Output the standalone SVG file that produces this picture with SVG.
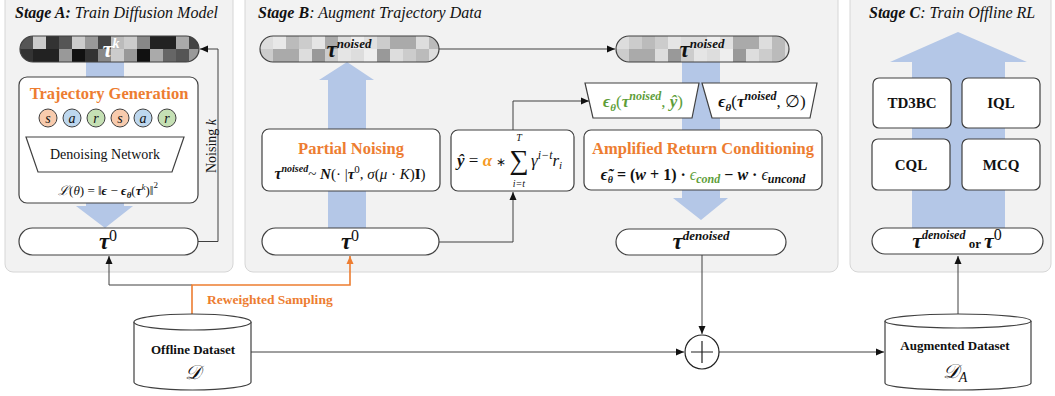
<svg xmlns="http://www.w3.org/2000/svg" width="1055" height="396" viewBox="0 0 1055 396">
<style>
text{font-family:"Liberation Serif","Times New Roman",serif;fill:#111}
.panel{fill:#f2f2f2;stroke:#d6d6d6;stroke-width:1}
.box{fill:#fff;stroke:#404040;stroke-width:1.2}
.pill{fill:#fff;stroke:#404040;stroke-width:1.2}
.blue{fill:#b4c7e7}
.ln{fill:none;stroke:#404040;stroke-width:1}
.oln{fill:none;stroke:#ed7d31;stroke-width:1.6}
.title{font-size:16px;font-style:italic}
.otitle{font-size:16.5px;font-weight:bold;fill:#ed7d31}
.bi{font-weight:bold;font-style:italic}
.it{font-style:italic}
.alg{font-size:15px;font-weight:bold;text-anchor:middle}
.lbl{font-size:13px;font-weight:bold;text-anchor:middle}
.grn{fill:#5e9e3a}
.s{fill:#f8cbad;stroke:#404040;stroke-width:1}
.a{fill:#bdd7ee;stroke:#404040;stroke-width:1}
.r{fill:#c5e0b4;stroke:#404040;stroke-width:1}
.circ{font-size:14px;font-style:italic;text-anchor:middle}
</style>
<defs>
<marker id="ah" markerUnits="userSpaceOnUse" markerWidth="8" markerHeight="8" refX="8" refY="4" orient="auto"><path d="M0,0.5 L8,4 L0,7.5 z" fill="#111"/></marker>
<marker id="aho" markerUnits="userSpaceOnUse" markerWidth="8" markerHeight="8" refX="8" refY="4" orient="auto"><path d="M0,0.5 L8,4 L0,7.5 z" fill="#ed7d31"/></marker>
<clipPath id="cpA"><rect x="20" y="36" width="179" height="26" rx="13"/></clipPath>
<clipPath id="cpB1"><rect x="260" y="36" width="179" height="26" rx="13"/></clipPath>
<clipPath id="cpB2"><rect x="616" y="36" width="173" height="26" rx="13"/></clipPath>
</defs>
<rect width="1055" height="396" fill="#fff"/>

<!-- panels -->
<g id="panelA"><rect class="panel" x="5" y="-10" width="228" height="282" rx="8"/>
<text class="title" x="15" y="18"><tspan font-weight="bold">Stage A:</tspan> Train Diffusion Model</text></g>
<g id="panelB"><rect class="panel" x="245" y="-10" width="593" height="282" rx="8"/>
<text class="title" x="258" y="18"><tspan font-weight="bold">Stage B</tspan>: Augment Trajectory Data</text></g>
<g id="panelC"><rect class="panel" x="850" y="-10" width="201" height="282" rx="8"/>
<text class="title" x="869" y="18"><tspan font-weight="bold">Stage C</tspan>: Train Offline RL</text></g>

<!-- blue flow arrows -->
<g id="flows">
<rect class="blue" x="86" y="62" width="38" height="16"/>
<polygon class="blue" points="86,202 124,202 124,206 133,206 105,228 76,206 86,206"/>
<polygon class="blue" points="347,62 374,80 366,80 366,228 328,228 328,80 319,80"/>
<rect class="blue" x="682" y="62" width="38" height="68"/>
<polygon class="blue" points="682,190 720,190 720,198 728,198 701,220 673,198 682,198"/>
<polygon class="blue" points="958,32 1027,62 1005,62 1005,228 912,228 912,62 890,62"/>
</g>

<!-- connectors -->
<g id="connectors">
<path class="ln" d="M198,241.5 H218 V49 H200" marker-end="url(#ah)"/>
<path class="ln" d="M192,285 H109 V256" marker-end="url(#ah)"/>
<path class="oln" d="M192,314 V285 H350 V256" marker-end="url(#aho)"/>
<path class="ln" d="M439,49 H615" marker-end="url(#ah)"/>
<path class="ln" d="M439,242 H513 V192" marker-end="url(#ah)"/>
<path class="ln" d="M513,130 V101 H589" marker-end="url(#ah)"/>
<path class="ln" d="M702,255 V334" marker-end="url(#ah)"/>
<path class="ln" d="M251,352 H684" marker-end="url(#ah)"/>
<path class="ln" d="M719,352 H884" marker-end="url(#ah)"/>
<path class="ln" d="M958,314 V256" marker-end="url(#ah)"/>
</g>

<!-- Stage A nodes -->
<g id="tauK">
<g clip-path="url(#cpA)">
<rect x="20" y="36" width="13" height="13" fill="#555"/><rect x="33" y="36" width="13" height="13" fill="#ccc"/><rect x="46" y="36" width="13" height="13" fill="#333"/><rect x="59" y="36" width="13" height="13" fill="#555"/><rect x="72" y="36" width="13" height="13" fill="#ccc"/><rect x="85" y="36" width="13" height="13" fill="#999"/><rect x="98" y="36" width="13" height="13" fill="#444"/><rect x="111" y="36" width="13" height="13" fill="#bbb"/><rect x="124" y="36" width="13" height="13" fill="#ccc"/><rect x="137" y="36" width="13" height="13" fill="#888"/><rect x="150" y="36" width="13" height="13" fill="#222"/><rect x="163" y="36" width="13" height="13" fill="#222"/><rect x="176" y="36" width="13" height="13" fill="#aaa"/><rect x="189" y="36" width="13" height="13" fill="#444"/>
<rect x="20" y="49" width="13" height="13" fill="#333"/><rect x="33" y="49" width="13" height="13" fill="#222"/><rect x="46" y="49" width="13" height="13" fill="#222"/><rect x="59" y="49" width="13" height="13" fill="#999"/><rect x="72" y="49" width="13" height="13" fill="#111"/><rect x="85" y="49" width="13" height="13" fill="#333"/><rect x="98" y="49" width="13" height="13" fill="#888"/><rect x="111" y="49" width="13" height="13" fill="#ccc"/><rect x="124" y="49" width="13" height="13" fill="#999"/><rect x="137" y="49" width="13" height="13" fill="#111"/><rect x="150" y="49" width="13" height="13" fill="#aaa"/><rect x="163" y="49" width="13" height="13" fill="#666"/><rect x="176" y="49" width="13" height="13" fill="#555"/><rect x="189" y="49" width="13" height="13" fill="#999"/>
</g>
<rect x="20" y="36" width="179" height="26" rx="13" fill="none" stroke="#404040" stroke-width="1.2"/>
<text x="111" y="57" text-anchor="middle" style="fill:#fff"><tspan class="bi" font-size="23" style="fill:#fff">τ</tspan><tspan class="bi" font-size="14" dy="-9" style="fill:#fff">k</tspan></text>
</g>

<g id="trajGen">
<rect class="box" x="19" y="77" width="179" height="126" rx="8"/>
<text class="otitle" x="109" y="99" text-anchor="middle">Trajectory Generation</text>
<circle class="s" cx="48" cy="118" r="9"/><text class="circ" x="48" y="122.5">s</text>
<circle class="a" cx="72" cy="118" r="9"/><text class="circ" x="72" y="122.5">a</text>
<circle class="r" cx="96" cy="118" r="9"/><text class="circ" x="96" y="122.5">r</text>
<circle class="s" cx="120" cy="118" r="9"/><text class="circ" x="120" y="122.5">s</text>
<circle class="a" cx="143" cy="118" r="9"/><text class="circ" x="143" y="122.5">a</text>
<circle class="r" cx="167" cy="118" r="9"/><text class="circ" x="167" y="122.5">r</text>
<polygon points="26,137 184,137 172,172 38,172" fill="#fff" stroke="#404040" stroke-width="1.2"/>
<text x="105" y="159" font-size="14" text-anchor="middle">Denoising Network</text>
<text x="108" y="195" font-size="13" text-anchor="middle"><tspan class="it">ℒ</tspan>(<tspan class="it">θ</tspan>) = ‖<tspan class="bi">ϵ</tspan> − <tspan class="bi">ϵ</tspan><tspan class="bi" font-size="9" dy="3">θ</tspan><tspan dy="-3">(</tspan><tspan class="bi">τ</tspan><tspan class="it" font-size="9" dy="-5">k</tspan><tspan dy="5">)‖</tspan><tspan font-size="9" dy="-7">2</tspan></text>
</g>

<g id="tau0A">
<rect class="pill" x="19" y="228" width="179" height="27" rx="13.5"/>
<text x="108" y="249" text-anchor="middle"><tspan class="bi" font-size="23">τ</tspan><tspan font-size="16" dy="-8">0</tspan></text>
</g>
<text id="noisingK" font-size="14" text-anchor="middle" transform="translate(215.5,146) rotate(-90)">Noising <tspan class="it">k</tspan></text>

<!-- Stage B nodes -->
<g id="tauNoisedB1">
<g clip-path="url(#cpB1)">
<rect x="260" y="36" width="13" height="13" fill="#ddd"/><rect x="273" y="36" width="13" height="13" fill="#e8e8e8"/><rect x="286" y="36" width="13" height="13" fill="#bbb"/><rect x="299" y="36" width="13" height="13" fill="#ccc"/><rect x="312" y="36" width="13" height="13" fill="#e5e5e5"/><rect x="325" y="36" width="13" height="13" fill="#aaa"/><rect x="338" y="36" width="13" height="13" fill="#ddd"/><rect x="351" y="36" width="13" height="13" fill="#eee"/><rect x="364" y="36" width="13" height="13" fill="#e0e0e0"/><rect x="377" y="36" width="13" height="13" fill="#ccc"/><rect x="390" y="36" width="13" height="13" fill="#aaa"/><rect x="403" y="36" width="13" height="13" fill="#aaa"/><rect x="416" y="36" width="13" height="13" fill="#ddd"/><rect x="429" y="36" width="13" height="13" fill="#bbb"/>
<rect x="260" y="49" width="13" height="13" fill="#ccc"/><rect x="273" y="49" width="13" height="13" fill="#aaa"/><rect x="286" y="49" width="13" height="13" fill="#aaa"/><rect x="299" y="49" width="13" height="13" fill="#ddd"/><rect x="312" y="49" width="13" height="13" fill="#999"/><rect x="325" y="49" width="13" height="13" fill="#ccc"/><rect x="338" y="49" width="13" height="13" fill="#e5e5e5"/><rect x="351" y="49" width="13" height="13" fill="#ddd"/><rect x="364" y="49" width="13" height="13" fill="#eee"/><rect x="377" y="49" width="13" height="13" fill="#999"/><rect x="390" y="49" width="13" height="13" fill="#ddd"/><rect x="403" y="49" width="13" height="13" fill="#ccc"/><rect x="416" y="49" width="13" height="13" fill="#bbb"/><rect x="429" y="49" width="13" height="13" fill="#ddd"/>
</g>
<rect x="260" y="36" width="179" height="26" rx="13" fill="none" stroke="#404040" stroke-width="1.2"/>
<text x="349" y="57" text-anchor="middle"><tspan class="bi" font-size="23">τ</tspan><tspan class="bi" font-size="13" dy="-9">noised</tspan></text>
</g>

<g id="partialNoising">
<rect class="box" x="262" y="129" width="178" height="62" rx="7"/>
<text class="otitle" x="351" y="154" text-anchor="middle">Partial Noising</text>
<text x="350" y="179" font-size="15" text-anchor="middle"><tspan class="bi" font-size="16">τ</tspan><tspan class="bi" font-size="10" dy="-7">noised</tspan><tspan dy="7">~ </tspan><tspan class="bi">N</tspan>(· |<tspan class="bi">τ</tspan><tspan font-size="11" dy="-6">0</tspan><tspan dy="6">, </tspan><tspan class="it">σ</tspan>(<tspan class="it">μ</tspan> · <tspan class="it">K</tspan>)<tspan font-weight="bold">I</tspan>)</text>
</g>

<g id="tau0B">
<rect class="pill" x="262" y="228" width="177" height="27" rx="13.5"/>
<text x="350" y="249" text-anchor="middle"><tspan class="bi" font-size="23">τ</tspan><tspan font-size="16" dy="-8">0</tspan></text>
</g>

<g id="yhat">
<rect class="box" x="451" y="130" width="123" height="61" rx="7"/>
<text x="457" y="166" font-size="17"><tspan class="bi">ŷ</tspan> = <tspan class="it" font-weight="bold" style="fill:#f59a23">α</tspan> <tspan font-size="12">∗</tspan></text>
<text x="519" y="168.5" font-size="27" text-anchor="middle">∑</text>
<text x="519" y="141" font-size="10" class="it" text-anchor="middle">T</text>
<text x="519" y="187" font-size="10" class="it" text-anchor="middle">i=t</text>
<text x="531" y="166" font-size="17"><tspan class="it">γ</tspan><tspan class="it" font-size="12" dy="-7">i−t</tspan><tspan class="it" dy="7">r</tspan><tspan class="it" font-size="11" dy="3">i</tspan></text>
</g>

<g id="tauNoisedB2">
<g clip-path="url(#cpB2)">
<rect x="616" y="36" width="13" height="13" fill="#ddd"/><rect x="629" y="36" width="13" height="13" fill="#ccc"/><rect x="642" y="36" width="13" height="13" fill="#bbb"/><rect x="655" y="36" width="13" height="13" fill="#ccc"/><rect x="668" y="36" width="13" height="13" fill="#e5e5e5"/><rect x="681" y="36" width="13" height="13" fill="#ddd"/><rect x="694" y="36" width="13" height="13" fill="#ddd"/><rect x="707" y="36" width="13" height="13" fill="#eee"/><rect x="720" y="36" width="13" height="13" fill="#e0e0e0"/><rect x="733" y="36" width="13" height="13" fill="#aaa"/><rect x="746" y="36" width="13" height="13" fill="#aaa"/><rect x="759" y="36" width="13" height="13" fill="#ddd"/><rect x="772" y="36" width="13" height="13" fill="#bbb"/><rect x="785" y="36" width="13" height="13" fill="#ddd"/>
<rect x="616" y="49" width="13" height="13" fill="#ccc"/><rect x="629" y="49" width="13" height="13" fill="#aaa"/><rect x="642" y="49" width="13" height="13" fill="#aaa"/><rect x="655" y="49" width="13" height="13" fill="#ddd"/><rect x="668" y="49" width="13" height="13" fill="#999"/><rect x="681" y="49" width="13" height="13" fill="#ccc"/><rect x="694" y="49" width="13" height="13" fill="#e5e5e5"/><rect x="707" y="49" width="13" height="13" fill="#ddd"/><rect x="720" y="49" width="13" height="13" fill="#eee"/><rect x="733" y="49" width="13" height="13" fill="#999"/><rect x="746" y="49" width="13" height="13" fill="#ddd"/><rect x="759" y="49" width="13" height="13" fill="#ccc"/><rect x="772" y="49" width="13" height="13" fill="#bbb"/><rect x="785" y="49" width="13" height="13" fill="#ddd"/>
</g>
<rect x="616" y="36" width="173" height="26" rx="13" fill="none" stroke="#404040" stroke-width="1.2"/>
<text x="702" y="57" text-anchor="middle"><tspan class="bi" font-size="23">τ</tspan><tspan class="bi" font-size="13" dy="-9">noised</tspan></text>
</g>

<g id="epsCond">
<polygon points="585,83 699,83 692,118 593,118" fill="#fff" stroke="#404040" stroke-width="1.2"/>
<text x="643" y="107" font-size="17" text-anchor="middle" class="grn"><tspan class="bi grn">ϵ</tspan><tspan class="bi grn" font-size="11" dy="4">θ</tspan><tspan class="grn" dy="-4">(</tspan><tspan class="bi grn">τ</tspan><tspan class="bi grn" font-size="12" dy="-7">noised</tspan><tspan class="grn" dy="7">, </tspan><tspan class="bi grn">ŷ</tspan><tspan class="grn">)</tspan></text>
</g>
<g id="epsUncond">
<polygon points="702,83 817,83 810,118 712,118" fill="#fff" stroke="#404040" stroke-width="1.2"/>
<text x="762" y="107" font-size="17" text-anchor="middle"><tspan class="bi">ϵ</tspan><tspan class="bi" font-size="11" dy="4">θ</tspan><tspan dy="-4">(</tspan><tspan class="bi">τ</tspan><tspan class="bi" font-size="12" dy="-7">noised</tspan><tspan dy="7">, ∅)</tspan></text>
</g>

<g id="amplified">
<rect class="box" x="584" y="130" width="238" height="60" rx="7"/>
<text class="otitle" x="703" y="154" text-anchor="middle">Amplified Return Conditioning</text>
<text x="703" y="180" font-size="16" font-weight="bold" text-anchor="middle"><tspan class="bi">ϵ̃</tspan><tspan class="bi" font-size="10" dy="3">θ</tspan><tspan dy="-3"> = (</tspan><tspan class="bi">w</tspan> + 1) · <tspan class="it grn" font-weight="normal">ϵ</tspan><tspan class="it grn" font-size="12" dy="3">cond</tspan><tspan dy="-3"> − </tspan><tspan class="bi">w</tspan> · <tspan class="it" font-weight="normal">ϵ</tspan><tspan class="bi" font-size="12" dy="3">uncond</tspan></text>
</g>

<g id="tauDenoised">
<rect class="pill" x="616" y="229" width="170" height="26" rx="13"/>
<text x="701" y="249" text-anchor="middle"><tspan class="bi" font-size="23">τ</tspan><tspan class="bi" font-size="13" dy="-9">denoised</tspan></text>
</g>

<!-- Stage C nodes -->
<g id="td3bc"><rect class="box" x="873" y="78" width="78" height="50" rx="6"/><text class="alg" x="912" y="108">TD3BC</text></g>
<g id="iql"><rect class="box" x="962" y="78" width="78" height="50" rx="6"/><text class="alg" x="1001" y="108">IQL</text></g>
<g id="cql"><rect class="box" x="872" y="139" width="78" height="51" rx="6"/><text class="alg" x="911" y="170">CQL</text></g>
<g id="mcq"><rect class="box" x="962" y="139" width="78" height="51" rx="6"/><text class="alg" x="1001" y="170">MCQ</text></g>
<g id="tauOut">
<rect class="pill" x="872" y="228" width="171" height="26" rx="13"/>
<text x="957" y="248" text-anchor="middle"><tspan class="bi" font-size="22">τ</tspan><tspan class="bi" font-size="12" dy="-9">denoised</tspan><tspan font-weight="bold" font-size="13" dy="9"> or </tspan><tspan class="bi" font-size="22">τ</tspan><tspan font-size="16" dy="-8">0</tspan></text>
</g>

<!-- bottom -->
<text id="reweighted" x="207" y="304" font-size="13.5" font-weight="bold" style="fill:#ed7d31">Reweighted Sampling</text>

<g id="offline">
<path d="M134,322 V382 A58.5,8 0 0 0 251,382 V322" fill="#fff" stroke="#404040" stroke-width="1.2"/>
<ellipse cx="192.5" cy="322" rx="58.5" ry="8" fill="#fff" stroke="#404040" stroke-width="1.2"/>
<text class="lbl" x="193" y="354">Offline Dataset</text>
<text x="193" y="379" font-size="20" text-anchor="middle" class="it">𝒟</text>
</g>

<g id="plus">
<circle cx="702" cy="352" r="17" fill="#fff" stroke="#222" stroke-width="1.2"/>
<path d="M691,352 H713 M702,341 V363" stroke="#222" stroke-width="1.2"/>
</g>

<g id="augmented">
<path d="M885,321 V383 A73,7 0 0 0 1031,383 V321" fill="#fff" stroke="#404040" stroke-width="1.2"/>
<ellipse cx="958" cy="321" rx="73" ry="7" fill="#fff" stroke="#404040" stroke-width="1.2"/>
<text class="lbl" x="955" y="350">Augmented Dataset</text>
<text x="955" y="378" font-size="20" text-anchor="middle" class="it">𝒟<tspan font-size="14" dy="4">A</tspan></text>
</g>
</svg>
